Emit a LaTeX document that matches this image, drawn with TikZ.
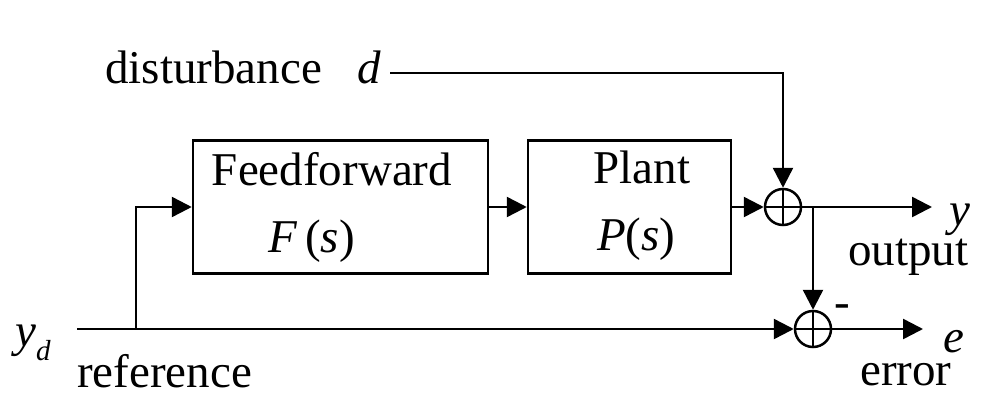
\documentclass[tikz,border=0pt]{standalone}
\usepackage{fontspec}
\setmainfont{Liberation Serif}
\usetikzlibrary{arrows.meta, positioning}

\begin{document}
\begin{tikzpicture}[
    x=1pt, y=-1pt,
    >={Triangle[length=20pt, width=20pt]},
    every path/.style={line width=2.5pt},
    block/.style={rectangle, draw, line width=2.5pt, minimum width=#1, minimum height=133pt, inner sep=0pt},
    sumj/.style={circle, draw, line width=2.5pt, minimum size=36pt, inner sep=0pt,
      path picture={
        \draw[line width=2.5pt] (path picture bounding box.north) -- (path picture bounding box.south);
        \draw[line width=2.5pt] (path picture bounding box.west) -- (path picture bounding box.east);
      }},
    lbl/.style={font=\fontsize{47}{50}\selectfont, inner sep=0pt},
  ]
  \useasboundingbox (0,0) rectangle (984,396);

  % blocks and summing junctions
  \node[block=295pt] (ff) at (340.5,207) {};
  \node[block=203pt] (plant) at (629.5,207) {};
  \node[sumj] (s1) at (783,207) {};
  \node[sumj] (s2) at (813,329) {};

  % free ends and branch points
  \coordinate (din) at (390,73);
  \coordinate (ydin) at (77,329);
  \coordinate (tap) at (136,329);
  \coordinate (tap2) at (813,207);
  \coordinate (yout) at (932,207);
  \coordinate (eout) at (923,329);

  % connectors
  \draw (ydin) -- (tap);
  \draw[->] (tap) |- (ff);
  \draw[->] (tap) -- (s2);
  \draw[->] (ff) -- (plant);
  \draw[->] (plant) -- (s1);
  \draw[->] (din) -| (s1);
  \draw[->] (s1) -- (yout);
  \draw[->] (tap2) -- (s2);
  \draw[->] (s2) -- (eout);

  % texts
  \node[lbl, anchor=base west] (dist) at (104,83) {disturbance\hspace{0.75em}\textit{d}};
  \node[lbl, anchor=base] (fftxt) at (332,185) {Feedforward};
  \node[lbl, anchor=base west] (fs) at (267,252) {\textit{F}\,(\textit{s})};
  \node[lbl, anchor=base] (planttxt) at (642,183) {Plant};
  \node[lbl, anchor=base west] (ps) at (596,250) {\textit{P}(\textit{s})};
  \node[lbl, anchor=base west] (yd) at (14,346) {\textit{y}\raisebox{-14pt}{\fontsize{29}{30}\selectfont\textit{d}}};
  \node[lbl, anchor=base west] (ref) at (76,387) {reference};
  \node[lbl, anchor=base west] (ylbl) at (948,225) {\textit{y}};
  \node[lbl, anchor=base west] (outtxt) at (847,265) {output};
  \node[lbl, anchor=base west] (elbl) at (942,352) {\textit{e}};
  \node[lbl, anchor=base west] (errtxt) at (859,385) {error};
  \node[lbl] (minus) at (842,311) {-};
\end{tikzpicture}
\end{document}
